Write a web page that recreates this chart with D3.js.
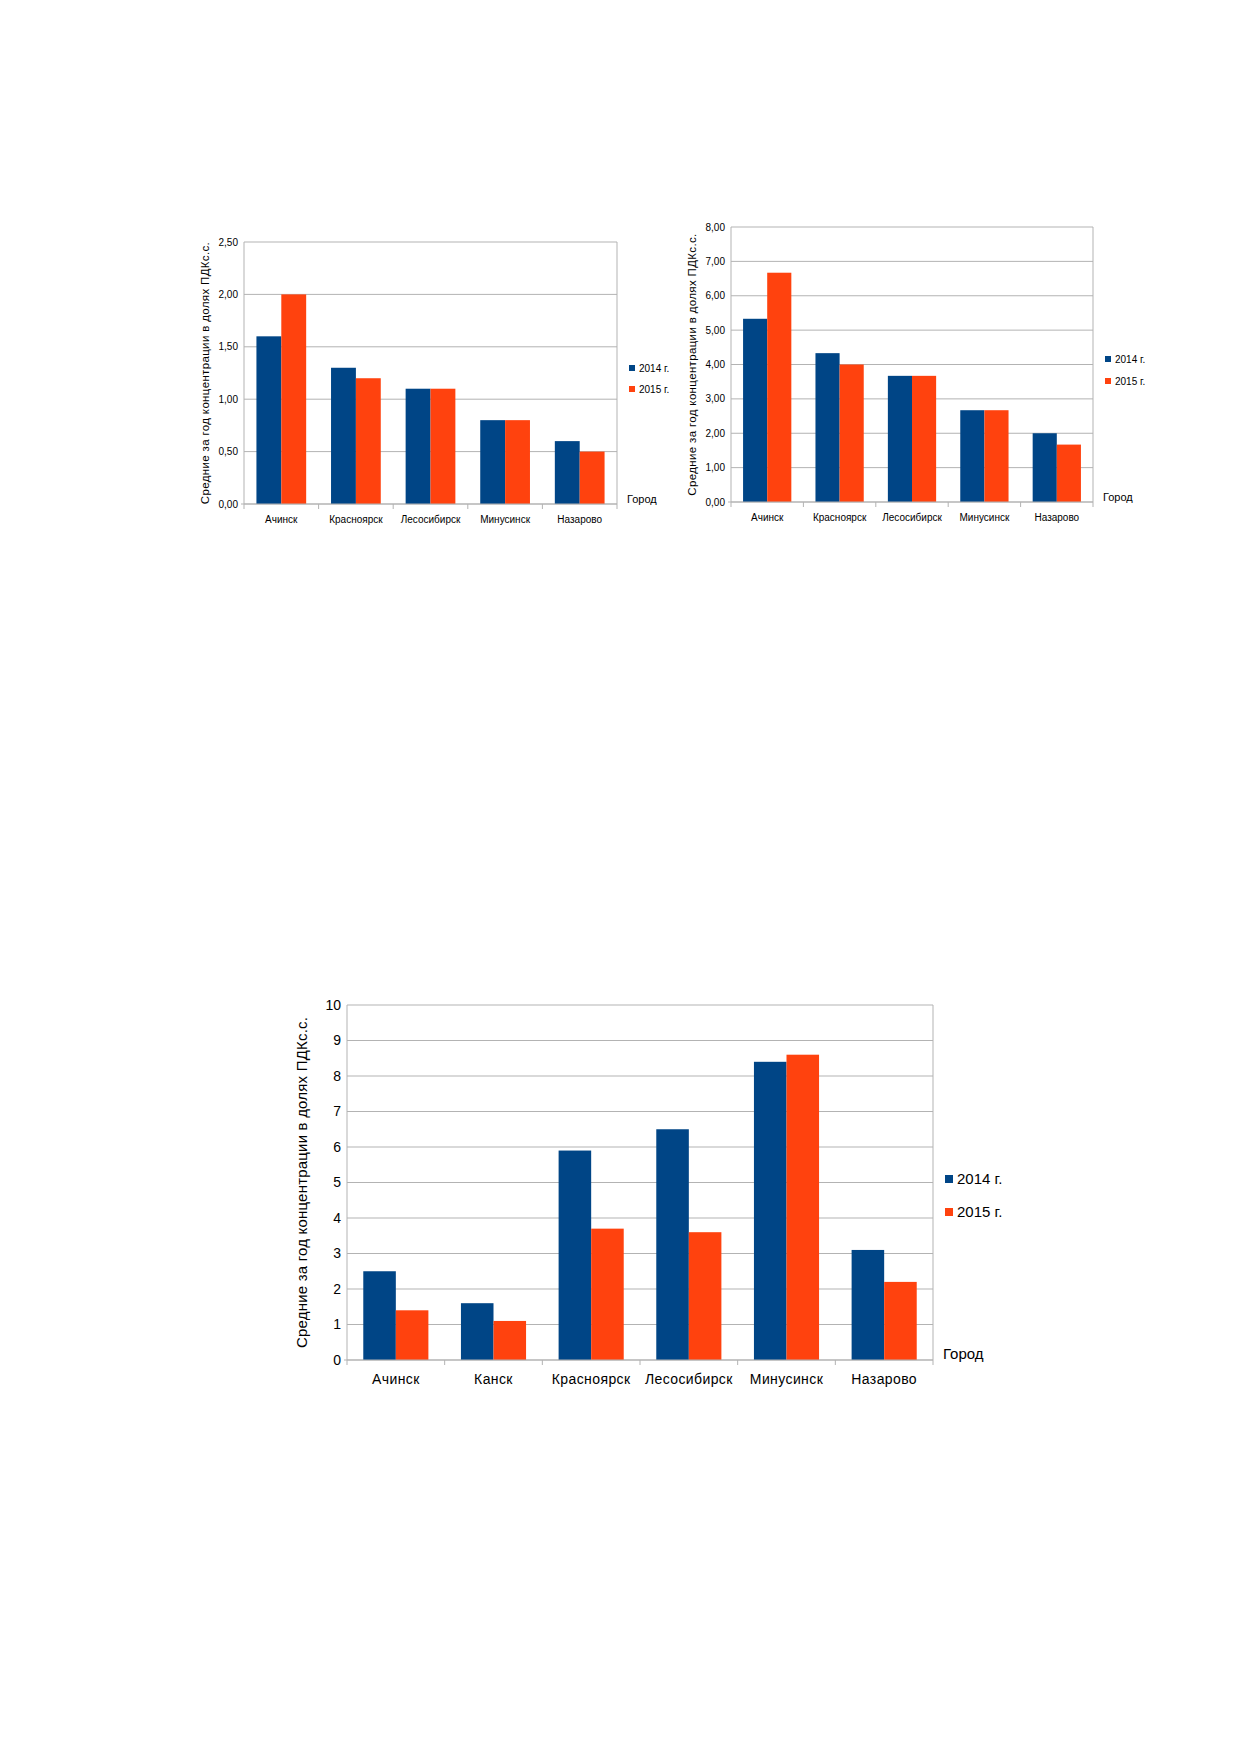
<!doctype html>
<html>
<head>
<meta charset="utf-8">
<title>ПДК</title>
<script src="https://cdn.jsdelivr.net/npm/d3@7"></script>
<style>
	body { margin: 0; background: #fff; }
	text { font-family: "Liberation Sans", Arial, sans-serif; fill: #000; }
</style>
</head>
<body>
<script>
// chart 1 (top left)
var cities1 = ["Ачинск", "Красноярск", "Лесосибирск", "Минусинск", "Назарово"]
var y2014_1 = [1.6, 1.3, 1.1, 0.8, 0.6]
var y2015_1 = [2.0, 1.2, 1.1, 0.8, 0.5]
var ticks1 = [0, 0.5, 1, 1.5, 2, 2.5]

// chart 2 (top right)
var cities2 = ["Ачинск", "Красноярск", "Лесосибирск", "Минусинск", "Назарово"]
var y2014_2 = [5.33, 4.33, 3.67, 2.67, 2.0]
var y2015_2 = [6.67, 4.0, 3.67, 2.67, 1.67]
var ticks2 = [0, 1, 2, 3, 4, 5, 6, 7, 8]

// chart 3 (bottom)
var cities3 = ["Ачинск", "Канск", "Красноярск", "Лесосибирск", "Минусинск", "Назарово"]
var y2014_3 = [2.5, 1.6, 5.9, 6.5, 8.4, 3.1]
var y2015_3 = [1.4, 1.1, 3.7, 3.6, 8.6, 2.2]
var ticks3 = [0, 1, 2, 3, 4, 5, 6, 7, 8, 9, 10]

var years = ["2014 г.", "2015 г."]
var yTitle = "Средние за год концентрации в долях ПДКс.с."
var xTitle = "Город"

var colors = ["#004586", "#ff420e"]
var grid = "#b3b3b3"

var svg = d3.select("body").append("svg")
	.attr("width", 1239)
	.attr("height", 1754)

function drawChart(o) {
	var g = svg.append("g")
	var x = d3.scaleBand().domain(o.cities).range([o.left, o.right])
	var x1 = d3.scaleBand().domain([0, 1]).range([0, x.bandwidth()]).paddingOuter(0.5)
	var y = d3.scaleLinear().domain([0, d3.max(o.ticks)]).range([o.bottom, o.top])
	var fmt = o.fmt

	// gridlines
	g.selectAll(".grid").data(o.ticks).enter().append("line")
		.attr("x1", o.left).attr("x2", o.right)
		.attr("y1", function(d) { return y(d) }).attr("y2", function(d) { return y(d) })
		.attr("stroke", grid).attr("stroke-width", 1)
	// frame sides
	g.append("line").attr("x1", o.left).attr("x2", o.left).attr("y1", o.top).attr("y2", o.bottom)
		.attr("stroke", grid)
	g.append("line").attr("x1", o.right).attr("x2", o.right).attr("y1", o.top).attr("y2", o.bottom)
		.attr("stroke", grid)

	// y tick labels
	g.selectAll(".yl").data(o.ticks).enter().append("text")
		.attr("x", o.left - 6)
		.attr("y", function(d) { return y(d) })
		.attr("dy", "0.35em")
		.attr("text-anchor", "end")
		.attr("font-size", o.fs)
		.text(function(d) { return fmt(d) })

	// bars
	var series = [o.v2014, o.v2015]
	series.forEach(function(vals, s) {
		g.selectAll(".b" + s).data(o.cities).enter().append("rect")
			.attr("x", function(d) { return x(d) + x1(s) })
			.attr("width", x1.bandwidth())
			.attr("y", function(d, i) { return y(vals[i]) })
			.attr("height", function(d, i) { return y(0) - y(vals[i]) })
			.attr("fill", colors[s])
	})

	// x axis
	var ax = g.append("g").attr("transform", "translate(0," + o.bottom + ")")
		.call(d3.axisBottom(x).tickSize(0).tickPadding(o.pad))
	ax.select(".domain").remove()
	ax.selectAll("text").attr("font-size", o.fs).attr("fill", "#000")
		.attr("font-family", "Liberation Sans, Arial, sans-serif")
		.style("letter-spacing", o.ls)
	var bounds = o.cities.map(function(d) { return x(d) }).concat([o.right])
	g.append("line").attr("x1", o.left - 3).attr("x2", o.right).attr("y1", o.bottom).attr("y2", o.bottom)
		.attr("stroke", grid)
	g.selectAll(".tk").data(bounds).enter().append("line")
		.attr("x1", function(d) { return d }).attr("x2", function(d) { return d })
		.attr("y1", o.bottom).attr("y2", o.bottom + o.tick)
		.attr("stroke", grid)

	// y title
	g.append("text")
		.attr("transform", "translate(" + o.ytx + "," + ((o.top + o.bottom) / 2) + ") rotate(-90)")
		.attr("text-anchor", "middle")
		.attr("dy", "0.35em")
		.attr("font-size", o.ytfs)
		.style("letter-spacing", o.yls)
		.text(yTitle)

	// x title
	g.append("text")
		.attr("x", o.right + 10)
		.attr("y", o.bottom - 1)
		.attr("font-size", o.tfs)
		.text(xTitle)

	// legend
	years.forEach(function(t, i) {
		g.append("rect")
			.attr("x", o.right + 12)
			.attr("y", o.legY[i] - o.sq / 2)
			.attr("width", o.sq).attr("height", o.sq)
			.attr("fill", colors[i])
		g.append("text")
			.attr("x", o.right + 16 + o.sq)
			.attr("y", o.legY[i])
			.attr("dy", "0.35em")
			.attr("font-size", o.lfs)
			.text(t)
	})
}

var fmt2 = function(d) { return d3.format(".2f")(d).replace(".", ",") }

drawChart({
	cities: cities1, v2014: y2014_1, v2015: y2015_1, ticks: ticks1, fmt: fmt2,
	left: 244, right: 617, top: 242, bottom: 504,
	fs: 10, tfs: 11, lfs: 10, ls: "0px", pad: 12, tick: 5,
	ytfs: 11.5, yls: "0.35px",
	ytx: 205, legY: [368, 389], sq: 6
})

drawChart({
	cities: cities2, v2014: y2014_2, v2015: y2015_2, ticks: ticks2, fmt: fmt2,
	left: 731, right: 1093, top: 227, bottom: 502,
	fs: 10, tfs: 11, lfs: 10, ls: "0px", pad: 12, tick: 5,
	ytfs: 11.5, yls: "0.35px",
	ytx: 692, legY: [359, 381], sq: 6
})

drawChart({
	cities: cities3, v2014: y2014_3, v2015: y2015_3, ticks: ticks3, fmt: function(d) { return d },
	left: 347, right: 933, top: 1005, bottom: 1360,
	fs: 14, tfs: 15, lfs: 15, ls: "0.4px", pad: 14, tick: 5,
	ytfs: 15, yls: "0.2px",
	ytx: 302, legY: [1179, 1212], sq: 8
})
</script>
</body>
</html>
